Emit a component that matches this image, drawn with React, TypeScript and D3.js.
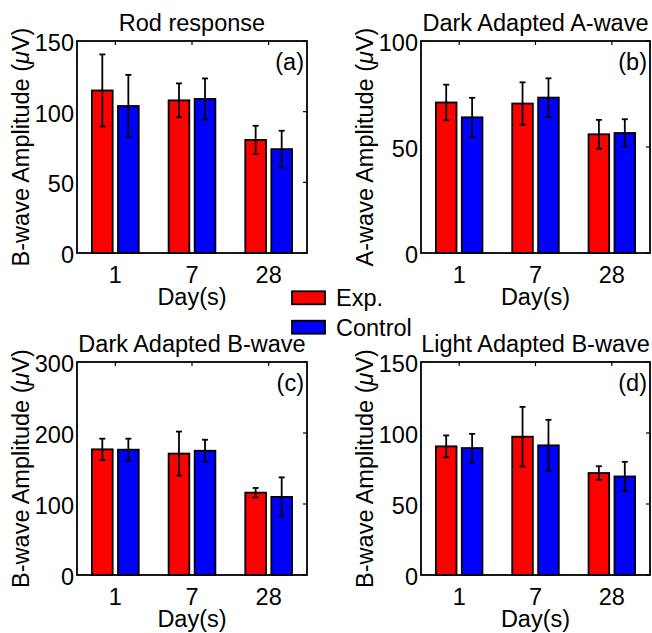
import * as d3 from "d3";

// categories / series
const days = ["1", "7", "28"];
const seriesNames = ["Exp.", "Control"];
const seriesColors = ["#ff0000", "#0000ff"];

// (a) rod response
const rodExp = [115, 108, 80];
const rodExpErr = [25.5, 12, 10];
const rodCtrl = [104, 109, 73.5];
const rodCtrlErr = [22, 14.5, 13];

// (b) dark adapted a-wave
const daAExp = [71, 70.5, 56];
const daAExpErr = [8.4, 10, 6.8];
const daACtrl = [64, 73.3, 56.6];
const daACtrlErr = [9.2, 9.1, 6.5];

// (c) dark adapted b-wave
const daBExp = [177, 171, 116];
const daBExpErr = [15, 31, 6.6];
const daBCtrl = [176.5, 175, 110];
const daBCtrlErr = [15.5, 15.5, 27.5];

// (d) light adapted b-wave
const laBExp = [90.6, 97.4, 71.8];
const laBExpErr = [7.7, 21, 4.8];
const laBCtrl = [89.4, 91.3, 69.4];
const laBCtrlErr = [10, 18, 10.3];

const titles = ["Rod response", "Dark Adapted A-wave", "Dark Adapted B-wave", "Light Adapted B-wave"];
const yNames = ["B-wave Amplitude", "A-wave Amplitude", "B-wave Amplitude", "B-wave Amplitude"];
const tags = ["(a)", "(b)", "(c)", "(d)"];
const yMaxes = [150, 100, 300, 150];
const yTickSteps = [50, 50, 100, 50];

const W = 652;
const H = 633;
const FONT = "'Liberation Sans', Arial, Helvetica, sans-serif";
const FS = 23.5;
const LW = 1.8;

function Panel({ idx, left, right, top, bottom }) {
  const exp = [rodExp, daAExp, daBExp, laBExp][idx];
  const expErr = [rodExpErr, daAExpErr, daBExpErr, laBExpErr][idx];
  const ctrl = [rodCtrl, daACtrl, daBCtrl, laBCtrl][idx];
  const ctrlErr = [rodCtrlErr, daACtrlErr, daBCtrlErr, laBCtrlErr][idx];
  const vals = [exp, ctrl];
  const errs = [expErr, ctrlErr];

  const x = d3.scaleBand().domain(days).range([left, right]).paddingInner(0.39).paddingOuter(0.195);
  const xs = d3.scaleBand().domain(seriesNames).range([0, x.bandwidth()]).paddingInner(0.204);
  const y = d3.scaleLinear().domain([0, yMaxes[idx]]).range([bottom, top]);
  const ticks = d3.range(0, yMaxes[idx] + 1, yTickSteps[idx]);
  const cx = (left + right) / 2;
  const cy = (top + bottom) / 2;

  return (
    <g>
      <text x={cx} y={top - 10} textAnchor="middle" fontSize={FS}>{titles[idx]}</text>
      {days.map((d, i) =>
        seriesNames.map((s, j) => {
          const bx = x(d) + xs(s);
          const v = vals[j][i];
          const e = errs[j][i];
          const mx = bx + xs.bandwidth() / 2;
          return (
            <g key={d + s}>
              <rect x={bx} y={y(v)} width={xs.bandwidth()} height={y(0) - y(v)}
                fill={seriesColors[j]} stroke="#000" strokeWidth={LW} />
              <line x1={mx} x2={mx} y1={y(v - e)} y2={y(v + e)} stroke="#000" strokeWidth={LW} />
              <line x1={mx - 3} x2={mx + 3} y1={y(v - e)} y2={y(v - e)} stroke="#000" strokeWidth={LW} />
              <line x1={mx - 3} x2={mx + 3} y1={y(v + e)} y2={y(v + e)} stroke="#000" strokeWidth={LW} />
            </g>
          );
        })
      )}
      <rect x={left} y={top} width={right - left} height={bottom - top} fill="none" stroke="#000" strokeWidth={LW} />
      {days.map((d) => {
        const tx = x(d) + x.bandwidth() / 2;
        return (
          <g key={d}>
            <line x1={tx} x2={tx} y1={top} y2={top + 4} stroke="#000" strokeWidth={1.2} />
            <text x={tx} y={bottom + 30} textAnchor="middle" fontSize={FS}>{d}</text>
          </g>
        );
      })}
      {ticks.map((t) => (
        <g key={t}>
          <line x1={right} x2={right - 4} y1={y(t)} y2={y(t)} stroke="#000" strokeWidth={1.2} />
          <text x={left - 3} y={y(t) + 1.5} dy="0.36em" textAnchor="end" fontSize={FS}>{t}</text>
        </g>
      ))}
      <text x={cx} y={bottom + 52} textAnchor="middle" fontSize={FS}>Day(s)</text>
      <text x={right - 3} y={top + 21} dy="0.36em" textAnchor="end" fontSize={FS}>{tags[idx]}</text>
      <text transform={`translate(${left - 48},${cy}) rotate(-90)`} textAnchor="middle" fontSize={FS}>
        {yNames[idx]} (<tspan fontStyle="italic">μ</tspan>V)
      </text>
    </g>
  );
}

export default function App() {
  const boxes = [
    { left: 77, right: 307, top: 41, bottom: 253 },
    { left: 421, right: 650, top: 41, bottom: 253 },
    { left: 77, right: 307, top: 362, bottom: 575 },
    { left: 421, right: 650, top: 362, bottom: 575 },
  ];
  const legendY = d3.scaleBand().domain(seriesNames).range([286, 339]).paddingInner(0.2);
  return (
    <svg width={W} height={H} style={{ position: "absolute", left: 0, top: 0, background: "#fff" }}
      fontFamily={FONT} fill="#000">
      <rect width={W} height={H} fill="#fff" />
      {boxes.map((b, i) => (
        <Panel key={i} idx={i} {...b} />
      ))}
      {seriesNames.map((s, j) => {
        const cyL = legendY(s) + legendY.bandwidth() / 2;
        return (
          <g key={s}>
            <rect x={292} y={cyL - 6.5} width={33} height={13} fill={seriesColors[j]} stroke="#000" strokeWidth={LW} />
            <text x={336} y={cyL} dy="0.36em" fontSize={FS}>{s}</text>
          </g>
        );
      })}
    </svg>
  );
}
